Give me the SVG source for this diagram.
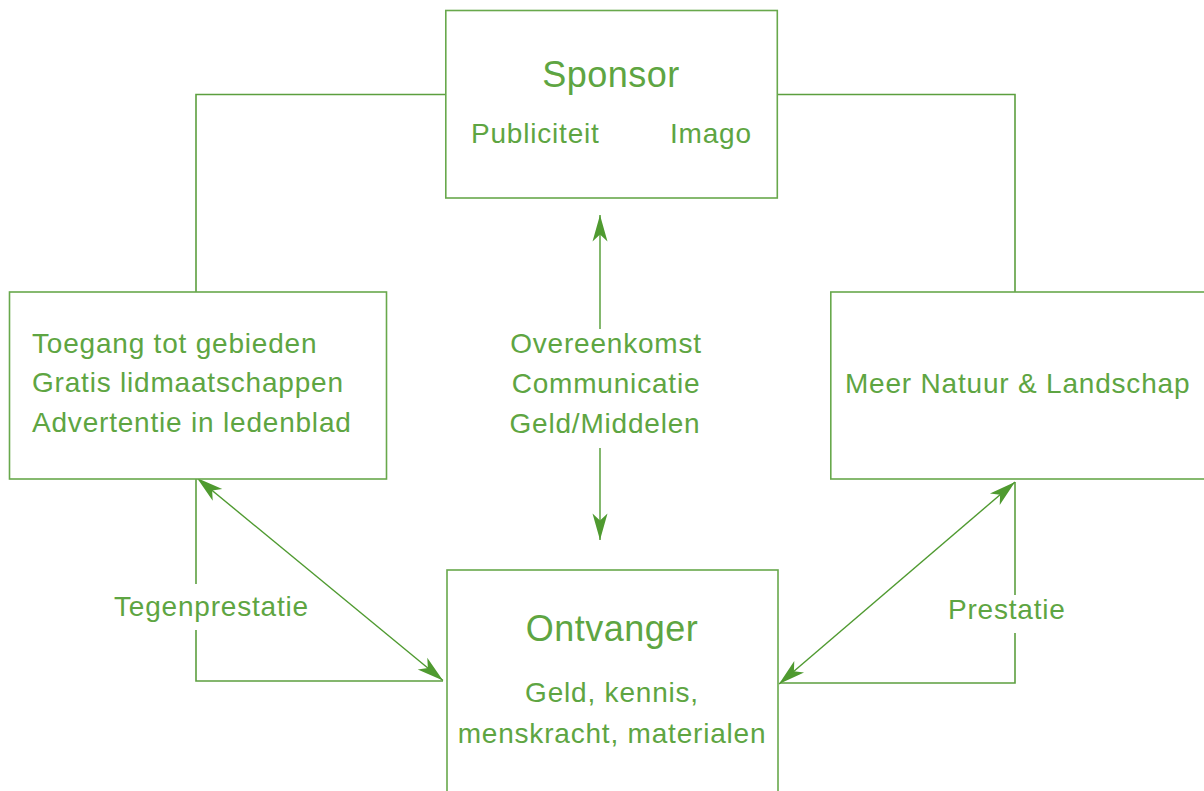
<svg xmlns="http://www.w3.org/2000/svg" width="1204" height="791" viewBox="0 0 1204 791">
<defs>
<marker id="ah" markerUnits="userSpaceOnUse" markerWidth="30" markerHeight="20" viewBox="-24 -8 26 16" refX="0" refY="0" orient="auto-start-reverse">
<path d="M0,0 L-23,-6.5 L-17,0 L-23,6.5 Z" fill="#4f9a30"/>
</marker>
<style>
.box{fill:#fff;stroke:#68a84c;stroke-width:1.6}
.ln{fill:none;stroke:#5c9f3f;stroke-width:1.6}
.ar{fill:none;stroke:#4f9a30;stroke-width:1.4}
text{font-family:"Liberation Sans",Arial,sans-serif;fill:#5ea542}
.t28{font-size:28px;letter-spacing:0.8px}
.t36{font-size:36px;letter-spacing:0.5px}
.c{text-anchor:middle}
</style>
</defs>
<rect width="1204" height="791" fill="#fff"/>
<g id="connectors">
<polyline class="ln" points="445,94.5 196,94.5 196,292"/>
<polyline class="ln" points="777,94.5 1015,94.5 1015,292"/>
<polyline class="ln" points="196,479 196,584"/>
<polyline class="ln" points="196,630 196,681 443,681"/>
<polyline class="ln" points="1015,482 1015,595"/>
<polyline class="ln" points="1015,633 1015,683 780,683"/>
<line class="ar" x1="600" y1="329" x2="600" y2="215" marker-end="url(#ah)"/>
<line class="ar" x1="600" y1="448" x2="600" y2="540" marker-end="url(#ah)"/>
<line class="ar" x1="197" y1="478" x2="443" y2="680.5" marker-start="url(#ah)" marker-end="url(#ah)"/>
<line class="ar" x1="1015" y1="482" x2="779" y2="684" marker-start="url(#ah)" marker-end="url(#ah)"/>
<text class="t28" x="114" y="615.5">Tegenprestatie</text>
<text class="t28" x="948" y="618.5">Prestatie</text>
<text class="t28 c" x="606" y="352.5">Overeenkomst</text>
<text class="t28 c" x="606" y="392.5">Communicatie</text>
<text class="t28 c" x="605" y="433">Geld/Middelen</text>
</g>
<g id="sponsor">
<rect class="box" x="445.8" y="10.5" width="331.5" height="187.5"/>
<text class="t36 c" x="611" y="87">Sponsor</text>
<text class="t28" x="471" y="142.5">Publiciteit</text>
<text class="t28" x="670" y="142.5">Imago</text>
</g>
<g id="tegenprestatie-box">
<rect class="box" x="9.5" y="292" width="377" height="187"/>
<text class="t28" x="32" y="352.5">Toegang tot gebieden</text>
<text class="t28" x="32" y="392">Gratis lidmaatschappen</text>
<text class="t28" x="32" y="432">Advertentie in ledenblad</text>
</g>
<g id="prestatie-box">
<rect class="box" x="830.8" y="292" width="400" height="187"/>
<text class="t28" x="845" y="392.5">Meer Natuur &amp; Landschap</text>
</g>
<g id="ontvanger">
<rect class="box" x="447" y="570" width="331" height="240"/>
<text class="t36 c" x="612" y="641">Ontvanger</text>
<text class="t28 c" x="612" y="701.5">Geld, kennis,</text>
<text class="t28 c" x="612" y="742.5">menskracht, materialen</text>
</g>
</svg>
